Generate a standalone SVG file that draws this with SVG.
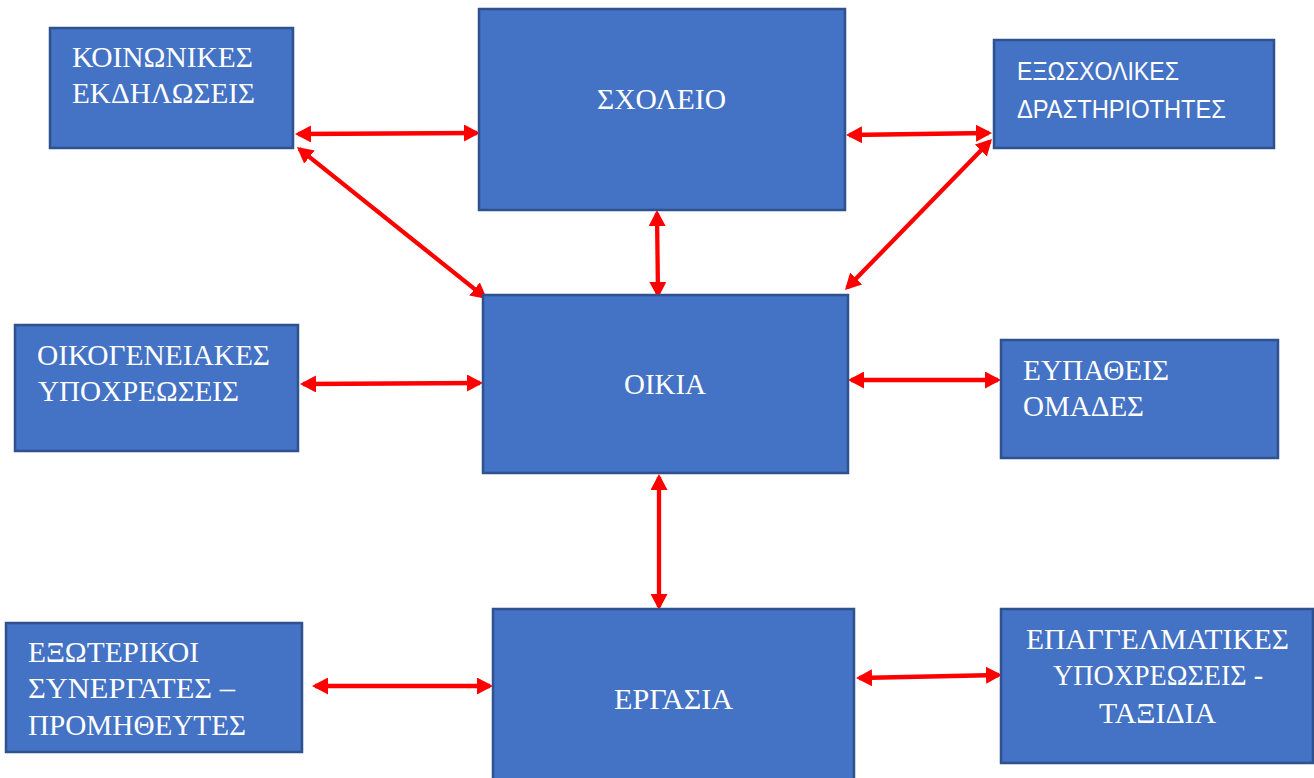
<svg xmlns="http://www.w3.org/2000/svg" width="1314" height="778" viewBox="0 0 1314 778">
<style>
.box{fill:#4472C4;stroke:#2F528F;stroke-width:2.5}
.t{fill:#FFFFFF;font-family:"Liberation Serif","DejaVu Serif","Times New Roman",serif;font-size:29.5px}
.s{fill:#FFFFFF;font-family:"Liberation Sans",Arial,sans-serif;font-size:25px}
.arr{stroke:#FF0000;stroke-width:4.3;fill:none;marker-start:url(#ah);marker-end:url(#ah)}
</style>
<defs>
<marker id="ah" markerUnits="userSpaceOnUse" markerWidth="16" markerHeight="17" viewBox="0 0 16 17" refX="13" refY="8.5" orient="auto-start-reverse">
<path d="M0,0 L16,8.5 L0,17 z" fill="#FF0000"/>
</marker>
</defs>
<rect x="0" y="0" width="1314" height="778" fill="#FFFFFF"/>
<g id="connectors">
<line class="arr" x1="298" y1="134" x2="477" y2="133"/>
<line class="arr" x1="299.3" y1="148.9" x2="484.7" y2="297.1"/>
<line class="arr" x1="849" y1="135" x2="989" y2="133"/>
<line class="arr" x1="989.9" y1="141.2" x2="847.1" y2="287.8"/>
<line class="arr" x1="657" y1="213" x2="658" y2="295"/>
<line class="arr" x1="303" y1="384" x2="480" y2="383"/>
<line class="arr" x1="851" y1="380" x2="998" y2="380"/>
<line class="arr" x1="659" y1="477" x2="659" y2="607"/>
<line class="arr" x1="315" y1="686" x2="490" y2="686"/>
<line class="arr" x1="859" y1="678" x2="999" y2="675"/>
</g>
<g id="koinonikes">
<rect class="box" x="50" y="28" width="243" height="120"/>
<text class="t" x="72" y="67" textLength="181" lengthAdjust="spacingAndGlyphs">ΚΟΙΝΩΝΙΚΕΣ</text>
<text class="t" x="72" y="103" textLength="183" lengthAdjust="spacingAndGlyphs">ΕΚΔΗΛΩΣΕΙΣ</text>
</g>
<g id="sxoleio">
<rect class="box" x="479" y="9" width="366" height="201"/>
<text class="t" x="597" y="109" textLength="129" lengthAdjust="spacingAndGlyphs">ΣΧΟΛΕΙΟ</text>
</g>
<g id="exosxolikes">
<rect class="box" x="994" y="40" width="280" height="108"/>
<text class="s" x="1017" y="80" textLength="162" lengthAdjust="spacingAndGlyphs">ΕΞΩΣΧΟΛΙΚΕΣ</text>
<text class="s" x="1017" y="118" textLength="209" lengthAdjust="spacingAndGlyphs">ΔΡΑΣΤΗΡΙΟΤΗΤΕΣ</text>
</g>
<g id="oikogeneiakes">
<rect class="box" x="15" y="325" width="283" height="126"/>
<text class="t" x="37" y="365" textLength="233" lengthAdjust="spacingAndGlyphs">ΟΙΚΟΓΕΝΕΙΑΚΕΣ</text>
<text class="t" x="38" y="401" textLength="201" lengthAdjust="spacingAndGlyphs">ΥΠΟΧΡΕΩΣΕΙΣ</text>
</g>
<g id="oikia">
<rect class="box" x="483" y="295" width="365" height="178"/>
<text class="t" x="624" y="394" textLength="82" lengthAdjust="spacingAndGlyphs">ΟΙΚΙΑ</text>
</g>
<g id="eupatheis">
<rect class="box" x="1001" y="340" width="277" height="118"/>
<text class="t" x="1023" y="380" textLength="146" lengthAdjust="spacingAndGlyphs">ΕΥΠΑΘΕΙΣ</text>
<text class="t" x="1023" y="416" textLength="121" lengthAdjust="spacingAndGlyphs">ΟΜΑΔΕΣ</text>
</g>
<g id="exoterikoi">
<rect class="box" x="6" y="623" width="296" height="129"/>
<text class="t" x="28" y="662" textLength="171" lengthAdjust="spacingAndGlyphs">ΕΞΩΤΕΡΙΚΟΙ</text>
<text class="t" x="28" y="698" textLength="207" lengthAdjust="spacingAndGlyphs">ΣΥΝΕΡΓΑΤΕΣ –</text>
<text class="t" x="28" y="735" textLength="218" lengthAdjust="spacingAndGlyphs">ΠΡΟΜΗΘΕΥΤΕΣ</text>
</g>
<g id="ergasia">
<rect class="box" x="493" y="609" width="361" height="180"/>
<text class="t" x="614" y="709" textLength="119" lengthAdjust="spacingAndGlyphs">ΕΡΓΑΣΙΑ</text>
</g>
<g id="epaggelmatikes">
<rect class="box" x="1001" y="609" width="312" height="154"/>
<text class="t" x="1026" y="649" textLength="263" lengthAdjust="spacingAndGlyphs">ΕΠΑΓΓΕΛΜΑΤΙΚΕΣ</text>
<text class="t" x="1053" y="685" textLength="210" lengthAdjust="spacingAndGlyphs">ΥΠΟΧΡΕΩΣΕΙΣ -</text>
<text class="t" x="1099" y="723" textLength="117" lengthAdjust="spacingAndGlyphs">ΤΑΞΙΔΙΑ</text>
</g>
</svg>
